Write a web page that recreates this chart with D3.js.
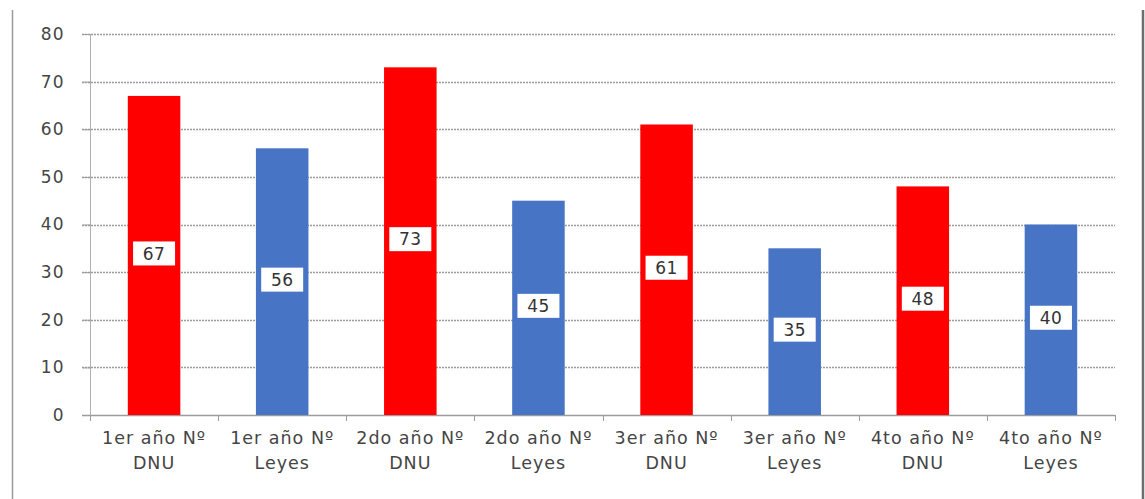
<!DOCTYPE html>
<html>
<head>
<meta charset="utf-8">
<script src="https://cdn.jsdelivr.net/npm/d3@7"></script>
<style>
  html, body { margin: 0; padding: 0; background: #fff; }
  svg { display: block; }
</style>
</head>
<body>
<svg id="chart" width="1145" height="499"></svg>
<script>
// Categories (two-line labels) and values
const categoryLine1 = ["1er año Nº", "1er año Nº", "2do año Nº", "2do año Nº", "3er año Nº", "3er año Nº", "4to año Nº", "4to año Nº"];
const categoryLine2 = ["DNU", "Leyes", "DNU", "Leyes", "DNU", "Leyes", "DNU", "Leyes"];
const values = [67, 56, 73, 45, 61, 35, 48, 40];
const seriesType = ["DNU", "Leyes", "DNU", "Leyes", "DNU", "Leyes", "DNU", "Leyes"];
const yTicks = [0, 10, 20, 30, 40, 50, 60, 70, 80];

const colors = { DNU: "#ff0000", Leyes: "#4774c4" };
const font = "'DejaVu Sans', sans-serif";

const svg = d3.select("#chart");
const plot = { left: 90, right: 1115, top: 34, bottom: 415 };

// Outer frame
svg.append("line").attr("x1", 12.5).attr("x2", 12.5).attr("y1", 10).attr("y2", 499)
  .attr("stroke", "#9a9a9a").attr("stroke-width", 1.5);
svg.append("line").attr("x1", 1143).attr("x2", 1143).attr("y1", 10).attr("y2", 499)
  .attr("stroke", "#6d6d6d").attr("stroke-width", 2.5);

const idx = values.map((_, i) => i);
const x = d3.scaleBand().domain(idx).range([plot.left, plot.right]).padding(0);
const y = d3.scaleLinear().domain([0, 80]).range([plot.bottom, plot.top]);

// Gridlines
svg.append("g").selectAll("line").data(yTicks.filter(t => t > 0)).join("line")
  .attr("x1", plot.left - 8).attr("x2", plot.right)
  .attr("y1", d => Math.round(y(d)) + 0.5).attr("y2", d => Math.round(y(d)) + 0.5)
  .attr("stroke", "#9c9c9c").attr("stroke-width", 1.3).attr("stroke-dasharray", "2,1");

// Y axis
const yAxis = svg.append("g").attr("transform", `translate(${plot.left + 0.5},0)`)
  .call(d3.axisLeft(y).tickValues(yTicks).tickSize(8).tickPadding(18).tickFormat(d3.format("d")));
yAxis.select(".domain").attr("stroke", "#b0b0b0").attr("d", `M0,${plot.top}V${plot.bottom}`);
yAxis.selectAll(".tick line").attr("stroke", "#9c9c9c");
yAxis.selectAll(".tick text").attr("fill", "#454545")
  .style("font-family", font).style("font-size", "17px").style("letter-spacing", "1px");

// X axis baseline and ticks at category boundaries
const xg = svg.append("g");
xg.append("line").attr("x1", plot.left - 8).attr("x2", plot.right)
  .attr("y1", plot.bottom + 0.5).attr("y2", plot.bottom + 0.5)
  .attr("stroke", "#9c9c9c").attr("stroke-width", 1.3);
const bounds = idx.map(i => x(i)).concat([plot.right]);
xg.selectAll("line.tk").data(bounds).join("line").attr("class", "tk")
  .attr("x1", d => Math.round(d) + 0.5).attr("x2", d => Math.round(d) + 0.5)
  .attr("y1", plot.bottom).attr("y2", plot.bottom + 6)
  .attr("stroke", "#9c9c9c");

// Bars
const barW = x.bandwidth() * 0.41;
svg.append("g").selectAll("rect").data(idx).join("rect")
  .attr("x", i => x(i) + (x.bandwidth() - barW) / 2)
  .attr("width", barW)
  .attr("y", i => y(values[i]))
  .attr("height", i => y(0) - y(values[i]))
  .attr("fill", i => colors[seriesType[i]]);

// Value labels in white boxes at bar mid-height
const lbl = svg.append("g").selectAll("g").data(idx).join("g")
  .attr("transform", i => `translate(${x(i) + x.bandwidth() / 2},${(y(values[i]) + y(0)) / 2 - 2})`);
lbl.append("rect").attr("x", -21).attr("y", -12).attr("width", 42).attr("height", 24).attr("fill", "#fff");
lbl.append("text").attr("text-anchor", "middle").attr("dy", "0.36em")
  .attr("fill", "#333").style("font-family", font).style("font-size", "17px").style("letter-spacing", "0.5px")
  .text(i => values[i]);

// Category labels
const cl = svg.append("g").selectAll("text").data(idx).join("text")
  .attr("text-anchor", "middle")
  .attr("fill", "#454545")
  .style("font-family", font).style("font-size", "17.5px").style("letter-spacing", "1px");
cl.append("tspan").attr("x", i => x(i) + x.bandwidth() / 2).attr("y", 444).text(i => categoryLine1[i]);
cl.append("tspan").attr("x", i => x(i) + x.bandwidth() / 2).attr("y", 469).text(i => categoryLine2[i]);
</script>
</body>
</html>
